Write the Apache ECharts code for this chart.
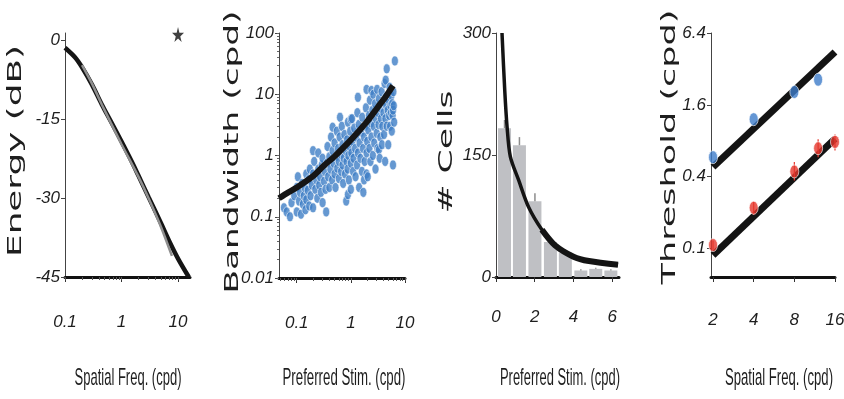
<!DOCTYPE html>
<html><head><meta charset="utf-8">
<script src="https://cdn.jsdelivr.net/npm/echarts@6/dist/echarts.min.js"></script>
<style>html,body{margin:0;padding:0;background:#fff}#c{width:844px;height:399px}</style>
</head><body><div id="c"></div>
<script>
// ---------- Panel 1: energy spectrum ----------
const energyFreq = [0.1, 0.15, 0.2, 0.3, 0.45, 0.65, 1, 1.5, 2, 3, 5, 7, 10, 15.5];
const energyDb = [-1.5, -3.3, -5.2, -8.5, -12.3, -15.5, -19.3, -23, -25.8, -29.8, -34.8, -38.2, -41.5, -45];
const spectrumFreq = [0.2, 0.3, 0.45, 0.65, 1, 2, 3, 5, 7.8];
const spectrumDb = [-4.8, -8.3, -12.3, -15.8, -19.8, -26, -30, -35.5, -41];
const starFreq = [10];
const starDb = [1];
const energyTicksX = [0.1, 1, 10];
const energyTicksY = [-45, -30, -15, 0];

// ---------- Panel 2: bandwidth vs preferred stim ----------
const bwCells = [
[0.058,0.14],[0.065,0.12],[0.075,0.1],[0.08,0.17],[0.09,0.22],[0.1,0.12],[0.1,0.3],[0.105,0.45],[0.11,0.18],[0.115,0.25],[0.12,0.11],[0.125,0.35],[0.13,0.16],[0.135,0.22],[0.14,0.3],[0.145,0.13],[0.15,0.5],[0.15,0.19],
[0.16,0.27],[0.165,0.4],[0.17,0.15],[0.175,0.6],[0.18,0.22],[0.19,0.33],[0.2,0.5],[0.2,0.14],[0.2,1.2],[0.21,0.8],[0.22,0.28],[0.23,0.4],[0.24,0.2],[0.25,0.6],[0.25,1.1],[0.26,0.33],[0.27,0.45],[0.28,0.25],[0.29,0.7],[0.3,0.17],[0.3,0.9],[0.32,0.38],[0.33,0.55],[0.34,0.28],[0.35,0.12],
[0.36,0.75],[0.37,1.4],[0.38,0.45],[0.4,0.3],[0.4,0.95],[0.42,0.6],[0.43,2.0],[0.45,0.4],[0.46,1.2],[0.46,2.9],[0.48,0.75],[0.5,0.5],[0.5,1.6],[0.52,0.3],[0.53,0.95],[0.55,2.5],[0.56,0.62],[0.58,1.3],[0.6,0.42],[0.6,0.8],[0.62,2.0],[0.63,4.2],[0.65,1.05],[0.66,0.55],[0.68,3.0],[0.7,0.7],[0.7,1.5],[0.72,0.35],[0.74,0.9],[0.76,2.2],[0.78,0.5],[0.8,1.2],
[0.82,0.18],[0.83,0.8],[0.85,1.8],[0.87,0.6],[0.88,3.5],[0.88,0.23],[0.9,1.0],[0.92,0.4],[0.95,1.4],[0.97,2.5],[1.0,0.75],[1.0,0.28],[1.0,3.9],[1.02,1.1],[1.05,4.0],[1.07,1.7],[1.1,0.55],[1.12,0.9],[1.15,2.8],[1.2,1.3],[1.22,0.45],[1.25,2.0],[1.3,0.7],[1.32,5.0],[1.35,8.9],[1.35,1.1],[1.4,3.2],[1.42,0.3],[1.45,1.6],[1.5,0.9],[1.55,2.4],[1.6,0.55],[1.62,4.2],[1.68,1.3],[1.7,0.25],[1.75,0.4],[1.75,2.0],[1.8,0.8],[1.85,3.0],[1.9,6.0],[1.95,12],[1.95,1.1],[1.95,0.5],[2.0,1.7],
[2.05,0.45],[2.1,2.6],[2.15,4.5],[2.2,1.3],[2.25,8.0],[2.3,0.8],[2.35,3.4],[2.4,2.0],[2.4,11.5],[2.5,5.5],[2.55,1.0],[2.6,10],[2.65,3.0],[2.7,1.6],[2.8,7.0],[2.85,0.6],[2.9,4.0],[3.0,2.3],[3.05,12],[3.1,1.3],[3.2,5.0],[3.25,3.2],[3.3,1.25],[3.3,8.5],[3.4,0.9],[3.5,2.0],[3.5,6.0],[3.6,4.0],[3.7,11],[3.75,1.5],[3.8,3.0],[3.9,7.5],[4.0,5.0],[4.1,2.2],[4.2,15],[4.3,0.8],[4.35,4.0],[4.4,9.0],[4.4,17],[4.5,6.5],[4.6,3.0],[4.6,26],[4.8,5.5],[4.9,1.5],[5.0,8.0],[5.1,4.5],[5.2,13],[5.3,3.0],[5.4,6.5],[5.5,5.0],[5.6,9.5],[5.7,2.5],[5.8,7.0],[5.9,4.5],[6.0,5.5],[6.0,0.7],[6.1,11],[6.2,6.5],[6.3,3.5],[6.5,35]
];
const bwFitStim = [0.047, 0.07, 0.1, 0.2, 0.316, 0.5, 1, 1.4, 2, 3.16, 4.5, 6];
const bwFitBandwidth = [0.2, 0.25, 0.3, 0.46, 0.68, 0.97, 1.8, 2.5, 3.6, 6.2, 9.4, 13.8];
const bwTicksX = [0.1, 1, 10];
const bwTicksY = [0.01, 0.1, 1, 10, 100];

// ---------- Panel 3: histogram of preferred stim ----------
const histCenters = [0.44, 1.21, 2.01, 2.81, 3.58, 4.38, 5.15, 5.93];
const histCounts = [183, 162, 93, 43, 30, 8, 10, 8];
const histErr = [10, 10, 10, 6.5, 4, 1.5, 1.5, 1.5];
const histFitStim = [0.31, 0.45, 0.57, 0.74, 1.17, 1.68, 2.37, 3.04, 4, 4.8, 6.3];
const histFitCells = [300, 230, 185, 148, 119, 86, 58, 39, 25, 19.6, 15];
const histTicksX = [0, 2, 4, 6];
const histTicksY = [0, 150, 300];

// ---------- Panel 4: thresholds ----------
const blueFreq = [2, 4, 8, 12];
const blueThresh = [0.58, 1.21, 2.05, 2.6];
const redFreq = [2, 4, 8, 12, 16];
const redThresh = [0.106, 0.218, 0.44, 0.69, 0.78];
const redLow = [0.097, 0.19, 0.37, 0.58, 0.66];
const redHigh = [0.116, 0.245, 0.53, 0.82, 0.9];
const blueFitFreq = [2, 16];
const blueFitThresh = [0.48, 4.45];
const redFitFreq = [2, 16];
const redFitThresh = [0.087, 0.83];
const threshTicksX = [2, 4, 8, 16];
const threshTicksY = [0.1, 0.4, 1.6, 6.4];

// ---------- helpers ----------
const L10 = Math.log10, L2 = Math.log2;
function logMinors(lo, hi) {
  const out = [];
  for (let d = Math.floor(lo) - 1; d <= Math.ceil(hi); d++)
    for (let k = 1; k <= 9; k++) { const v = d + L10(k); if (v >= lo - 1e-9 && v <= hi + 1e-9) out.push(v); }
  return out;
}
const tickFont = {fontFamily: '"Liberation Sans Narrow","Liberation Sans",Arial,sans-serif', fontStyle: 'italic', fontSize: 17, color: '#1e1e1e'};
function labelMap(vals, labels) {
  return v => { for (let i = 0; i < vals.length; i++) if (Math.abs(vals[i] - v) < 1e-6) return labels[i]; return ''; };
}
function xPair(gi, min, max, majors, labels, minors, margin) {
  return [
    {gridIndex: gi, type: 'value', min, max, position: 'bottom',
     axisLine: {show: true, onZero: false, lineStyle: {color: '#111', width: 3}},
     axisTick: {show: true, length: 5, customValues: majors, lineStyle: {color: '#333', width: 1}},
     axisLabel: Object.assign({customValues: majors, margin: margin, formatter: labelMap(majors, labels)}, tickFont),
     splitLine: {show: false}},
    {gridIndex: gi, type: 'value', min, max, position: 'bottom',
     axisLine: {show: false, onZero: false},
     axisTick: {show: minors.length > 0, length: 3, customValues: minors.length ? minors : [min], lineStyle: {color: '#555', width: 1}},
     axisLabel: {show: false}, splitLine: {show: false}}
  ];
}
function yPair(gi, min, max, majors, labels, minors) {
  return [
    {gridIndex: gi, type: 'value', min, max, position: 'left',
     axisLine: {show: true, onZero: false, lineStyle: {color: '#444', width: 1}},
     axisTick: {show: true, length: 4, customValues: majors, lineStyle: {color: '#444', width: 1}},
     axisLabel: Object.assign({customValues: majors, margin: 5, formatter: labelMap(majors, labels)}, tickFont),
     splitLine: {show: false}},
    {gridIndex: gi, type: 'value', min, max, position: 'left',
     axisLine: {show: false, onZero: false},
     axisTick: {show: minors.length > 0, length: 2, customValues: minors.length ? minors : [min], lineStyle: {color: '#666', width: 1}},
     axisLabel: {show: false}, splitLine: {show: false}}
  ];
}
const ctx = document.createElement('canvas').getContext('2d');
function textW(text, font) { ctx.font = font; return ctx.measureText(text).width; }
const yTitleFamily = '"DejaVu Sans",Verdana,sans-serif';
const xTitleFamily = '"Liberation Sans Narrow","Liberation Sans",Arial,sans-serif';
function yTitle(text, cx, cy, len) {
  const fs = 19;
  const w = textW(text, fs + 'px ' + yTitleFamily);
  return {type: 'text', x: cx, y: cy, rotation: Math.PI / 2, scaleX: len / w, scaleY: 1,
    style: {text, fontSize: fs, fontFamily: yTitleFamily, fill: '#1e1e1e', align: 'center', verticalAlign: 'middle'}};
}
function xTitle(text, cx, cy, len) {
  const fs = 24;
  const w = textW(text, fs + 'px ' + xTitleFamily);
  return {type: 'text', x: cx, y: cy, scaleX: len / w, scaleY: 1,
    style: {text, fontSize: fs, fontFamily: xTitleFamily, fill: '#1e1e1e', align: 'center', verticalAlign: 'middle'}};
}
const ellipse = 'path://M50,0 A50,50 0 1,1 50,100 A50,50 0 1,1 50,0 Z';
const star = 'path://M50,0 L61,35 L98,35 L68,57 L79,91 L50,70 L21,91 L32,57 L2,35 L39,35 Z';

// ---------- axes ----------
const p1x = [-1, 1.212], p1y = [-45, 1.3];
const p2x = [L10(0.047), 1.0], p2y = [-2, 2.0001];
const p3x = [0, 6.35], p3y = [0, 300];
const p4x = [0.95, 4.0001], p4y = [-4.13, L2(6.4) + 0.004];

const xAxis = [].concat(
  xPair(0, p1x[0], p1x[1], energyTicksX.map(L10), energyTicksX.map(String), logMinors(p1x[0], p1x[1]), 37),
  xPair(1, p2x[0], p2x[1], bwTicksX.map(L10), bwTicksX.map(String), logMinors(p2x[0], p2x[1]), 37),
  xPair(2, p3x[0], p3x[1], histTicksX, histTicksX.map(String), [], 32),
  xPair(3, p4x[0], p4x[1], threshTicksX.map(L2), threshTicksX.map(String), [], 35)
);
const yAxis = [].concat(
  yPair(0, p1y[0], p1y[1], energyTicksY, energyTicksY.map(String), []),
  yPair(1, p2y[0], p2y[1], bwTicksY.map(L10), bwTicksY.map(String), logMinors(p2y[0], p2y[1])),
  yPair(2, p3y[0], p3y[1], histTicksY, histTicksY.map(String), []),
  yPair(3, p4y[0], p4y[1], threshTicksY.map(L2), threshTicksY.map(String), [])
);

const zip = (a, b) => a.map((v, i) => [v, b[i]]);

const option = {
  backgroundColor: '#ffffff',
  animation: false,
  grid: [
    {left: 65, top: 33, width: 125, height: 244, outerBoundsMode: 'none', containLabel: false},
    {left: 279, top: 33, width: 126, height: 245, outerBoundsMode: 'none', containLabel: false},
    {left: 496, top: 33, width: 123, height: 244, outerBoundsMode: 'none', containLabel: false},
    {left: 711, top: 33, width: 124, height: 244, outerBoundsMode: 'none', containLabel: false}
  ],
  xAxis, yAxis,
  series: [
    // panel 1
    {type: 'line', xAxisIndex: 0, yAxisIndex: 0, data: zip(spectrumFreq.map(L10), spectrumDb), smooth: 0.3, symbol: 'none',
     lineStyle: {color: '#8f8f8f', width: 2.5}, z: 3},
    {type: 'line', xAxisIndex: 0, yAxisIndex: 0, data: zip(energyFreq.map(L10), energyDb), smooth: 0.3, symbol: 'none',
     lineStyle: {color: '#151515', width: 4.5}, z: 2},
    {type: 'scatter', xAxisIndex: 0, yAxisIndex: 0, data: zip(starFreq.map(L10), starDb), symbol: star, symbolSize: [12, 15],
     itemStyle: {color: '#111'}, clip: false},
    // panel 2
    {type: 'scatter', xAxisIndex: 2, yAxisIndex: 2, data: bwCells.map(p => [L10(p[0]), L10(p[1])]), symbol: ellipse, symbolSize: [7, 10],
     itemStyle: {color: '#3f7ec6', borderColor: '#ffffff', borderWidth: 0.7}, z: 2},
    {type: 'line', xAxisIndex: 2, yAxisIndex: 2, data: zip(bwFitStim.map(L10), bwFitBandwidth.map(L10)), smooth: 0.3, symbol: 'none',
     lineStyle: {color: '#161616', width: 6}, z: 3},
    // panel 3
    {type: 'bar', xAxisIndex: 4, yAxisIndex: 4, data: zip(histCenters, histCounts), barWidth: 13,
     itemStyle: {color: '#bfc0c4'}, z: 1},
    {type: 'custom', xAxisIndex: 4, yAxisIndex: 4, data: histCenters.map((c, i) => [c, histCounts[i], histErr[i]]), z: 2,
     renderItem: (params, api) => {
       const a = api.coord([api.value(0), api.value(1)]);
       const b = api.coord([api.value(0), api.value(1) + api.value(2)]);
       return {type: 'line', shape: {x1: a[0], y1: a[1], x2: b[0], y2: b[1]}, style: {stroke: '#8c8c8c', lineWidth: 1.5}};
     }},
    {type: 'line', xAxisIndex: 4, yAxisIndex: 4, data: zip(histFitStim, histFitCells), smooth: 0.3, symbol: 'none',
     lineStyle: {color: '#141414', width: 3.5}, z: 3},
    {type: 'line', xAxisIndex: 4, yAxisIndex: 4, data: zip(histFitStim, histFitCells).slice(6), smooth: 0.3, symbol: 'none',
     lineStyle: {color: '#141414', width: 6}, z: 3},
    // panel 4
    {type: 'line', xAxisIndex: 6, yAxisIndex: 6, data: zip(blueFitFreq.map(L2), blueFitThresh.map(L2)), symbol: 'none',
     lineStyle: {color: '#141414', width: 7, cap: 'butt'}, z: 1},
    {type: 'line', xAxisIndex: 6, yAxisIndex: 6, data: zip(redFitFreq.map(L2), redFitThresh.map(L2)), symbol: 'none',
     lineStyle: {color: '#141414', width: 7, cap: 'butt'}, z: 1},
    {type: 'custom', xAxisIndex: 6, yAxisIndex: 6, data: redFreq.map((f, i) => [L2(f), L2(redLow[i]), L2(redHigh[i])]), z: 2,
     renderItem: (params, api) => {
       const a = api.coord([api.value(0), api.value(1)]);
       const b = api.coord([api.value(0), api.value(2)]);
       return {type: 'line', shape: {x1: a[0], y1: a[1], x2: b[0], y2: b[1]}, style: {stroke: '#e5362c', lineWidth: 1.2}};
     }},
    {type: 'scatter', xAxisIndex: 6, yAxisIndex: 6, data: zip(blueFreq.map(L2), blueThresh.map(L2)), symbol: ellipse, symbolSize: [9, 13],
     itemStyle: {color: '#3d7cc9', borderColor: '#ffffff', borderWidth: 0.8}, z: 3, clip: false},
    {type: 'scatter', xAxisIndex: 6, yAxisIndex: 6, data: zip(redFreq.map(L2), redThresh.map(L2)), symbol: ellipse, symbolSize: [9, 13],
     itemStyle: {color: '#e5362c', borderColor: '#ffffff', borderWidth: 0.8}, z: 3, clip: false}
  ],
  graphic: [
    yTitle('Energy (dB)', 16.5, 151, 212),
    yTitle('Bandwidth (cpd)', 233, 152, 283),
    yTitle('# Cells', 447, 152, 123),
    yTitle('Threshold (cpd)', 670, 147, 275),
    xTitle('Spatial Freq. (cpd)', 128, 378, 107),
    xTitle('Preferred Stim. (cpd)', 344, 378, 123),
    xTitle('Preferred Stim. (cpd)', 560, 378, 120),
    xTitle('Spatial Freq. (cpd)', 779, 378, 108)
  ]
};
const chart = echarts.init(document.getElementById('c'), null, {renderer: 'canvas'});
chart.setOption(option);
</script></body></html>
